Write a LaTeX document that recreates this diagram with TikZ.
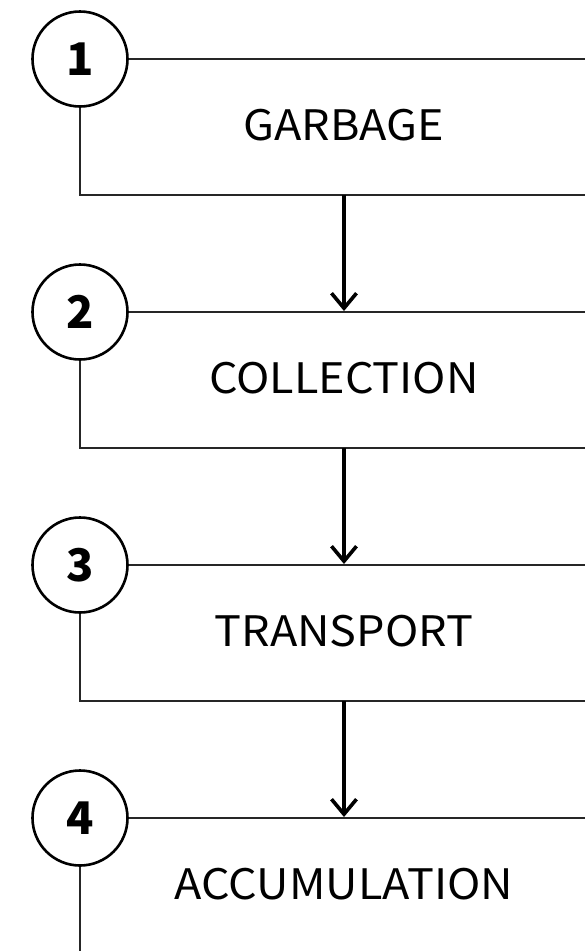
\documentclass[tikz,border=0pt]{standalone}
\usepackage{fontspec}
\setmainfont{Noto Sans CJK JP}
\usetikzlibrary{arrows.meta}
\tikzset{
  x=1pt, y=-1pt,
  numcirc/.style={circle, draw, line width=2.6pt, minimum size=95pt, inner sep=0pt, font=\fontsize{45}{45}\selectfont\bfseries},
  stage/.style={font=\fontsize{42}{42}\selectfont, inner sep=0pt, xscale=1.07},
  boxline/.style={line width=2.3pt, draw=black!85},
  flow/.style={line width=3.6pt, -{Straight Barb[length=15pt, width=25pt, line width=3.6pt]}},
}
\begin{document}
\begin{tikzpicture}
\useasboundingbox (0,0) rectangle (585,951);
\foreach \i/\y/\t in {1/59/GARBAGE, 2/312/COLLECTION, 3/565/TRANSPORT, 4/818/ACCUMULATION}{
  \node[numcirc] (c\i) at (80,\y) {\i};
  \coordinate (r\i) at (585,\y);
  \node[stage] (t\i) at (344,\y+66) {\t};
}
\foreach \i/\y in {1/195, 2/448, 3/701}{
  \coordinate (bl\i) at (80,\y);
  \coordinate (br\i) at (585,\y);
  \coordinate (bm\i) at (344,\y);
}
\coordinate (end4) at (80,951);
\foreach \i in {1,2,3}{
  \draw[boxline] (c\i.east) -- (r\i);
  \draw[boxline] (c\i.south) -- (bl\i) -- (br\i);
}
\draw[boxline] (c4.east) -- (r4);
\draw[boxline] (c4.south) -- (end4);
\coordinate (a2) at (344,311);
\coordinate (a3) at (344,564);
\coordinate (a4) at (344,817);
\draw[flow] (bm1) -- (a2);
\draw[flow] (bm2) -- (a3);
\draw[flow] (bm3) -- (a4);
\end{tikzpicture}
\end{document}
